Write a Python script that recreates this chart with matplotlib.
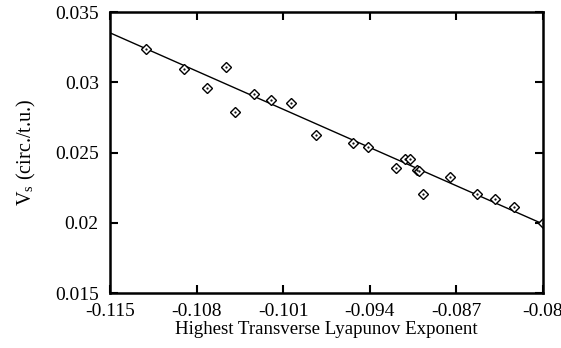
import matplotlib
matplotlib.use("Agg")
import matplotlib.pyplot as plt
import numpy as np

lyap = [-0.11209, -0.10902, -0.10714, -0.10562, -0.10490, -0.10336, -0.10199,
        -0.10037, -0.09835, -0.09536, -0.09414, -0.09188, -0.09115, -0.09075,
        -0.09017, -0.09005, -0.08970, -0.08752, -0.08533, -0.08388, -0.08234,
        -0.08000]
vs = [0.03237, 0.03094, 0.02960, 0.03109, 0.02788, 0.02916, 0.02874,
      0.02852, 0.02625, 0.02568, 0.02539, 0.02390, 0.02454, 0.02454,
      0.02375, 0.02368, 0.02205, 0.02326, 0.02205, 0.02169, 0.02112,
      0.02000]
fit_x = [-0.115, -0.080]
fit_y = [0.03352, 0.01991]

xticks = [-0.115, -0.108, -0.101, -0.094, -0.087, -0.08]
xticklabels = ["-0.115", "-0.108", "-0.101", "-0.094", "-0.087", "-0.08"]
yticks = [0.015, 0.02, 0.025, 0.03, 0.035]
yticklabels = ["0.015", "0.02", "0.025", "0.03", "0.035"]

plt.rcParams['font.family'] = ['Liberation Serif', 'DejaVu Serif']
plt.rcParams['mathtext.fontset'] = 'stix'

fig = plt.figure(figsize=(5.61, 3.48), dpi=100)
ax = fig.add_axes([0.196, 0.158, 0.772, 0.8075])

ax.plot(fit_x, fit_y, color='black', linewidth=1.0)
ax.plot(lyap, vs, linestyle='none', marker='D', markersize=5.5,
        markerfacecolor='white', markeredgecolor='black', markeredgewidth=1.0)
ax.plot(lyap, vs, linestyle='none', marker='.', markersize=1.2, color='black')

ax.set_xlim(-0.115, -0.08)
ax.set_ylim(0.015, 0.035)
ax.set_xticks(xticks)
ax.set_xticklabels(xticklabels)
ax.set_yticks(yticks)
ax.set_yticklabels(yticklabels)
ax.tick_params(direction='in', length=6, width=1.5, top=True, right=True,
               labelsize=14)
ax.tick_params(axis='x', pad=7)
ax.tick_params(axis='y', pad=8)
for s in ax.spines.values():
    s.set_linewidth(1.8)

ax.set_xlabel("Highest Transverse Lyapunov Exponent", fontsize=13.6, labelpad=1)
ax.set_ylabel(r"V$_{\mathregular{s}}$ (circ./t.u.)", fontsize=14.5, labelpad=12)

fig.savefig("out.png", dpi=100)
